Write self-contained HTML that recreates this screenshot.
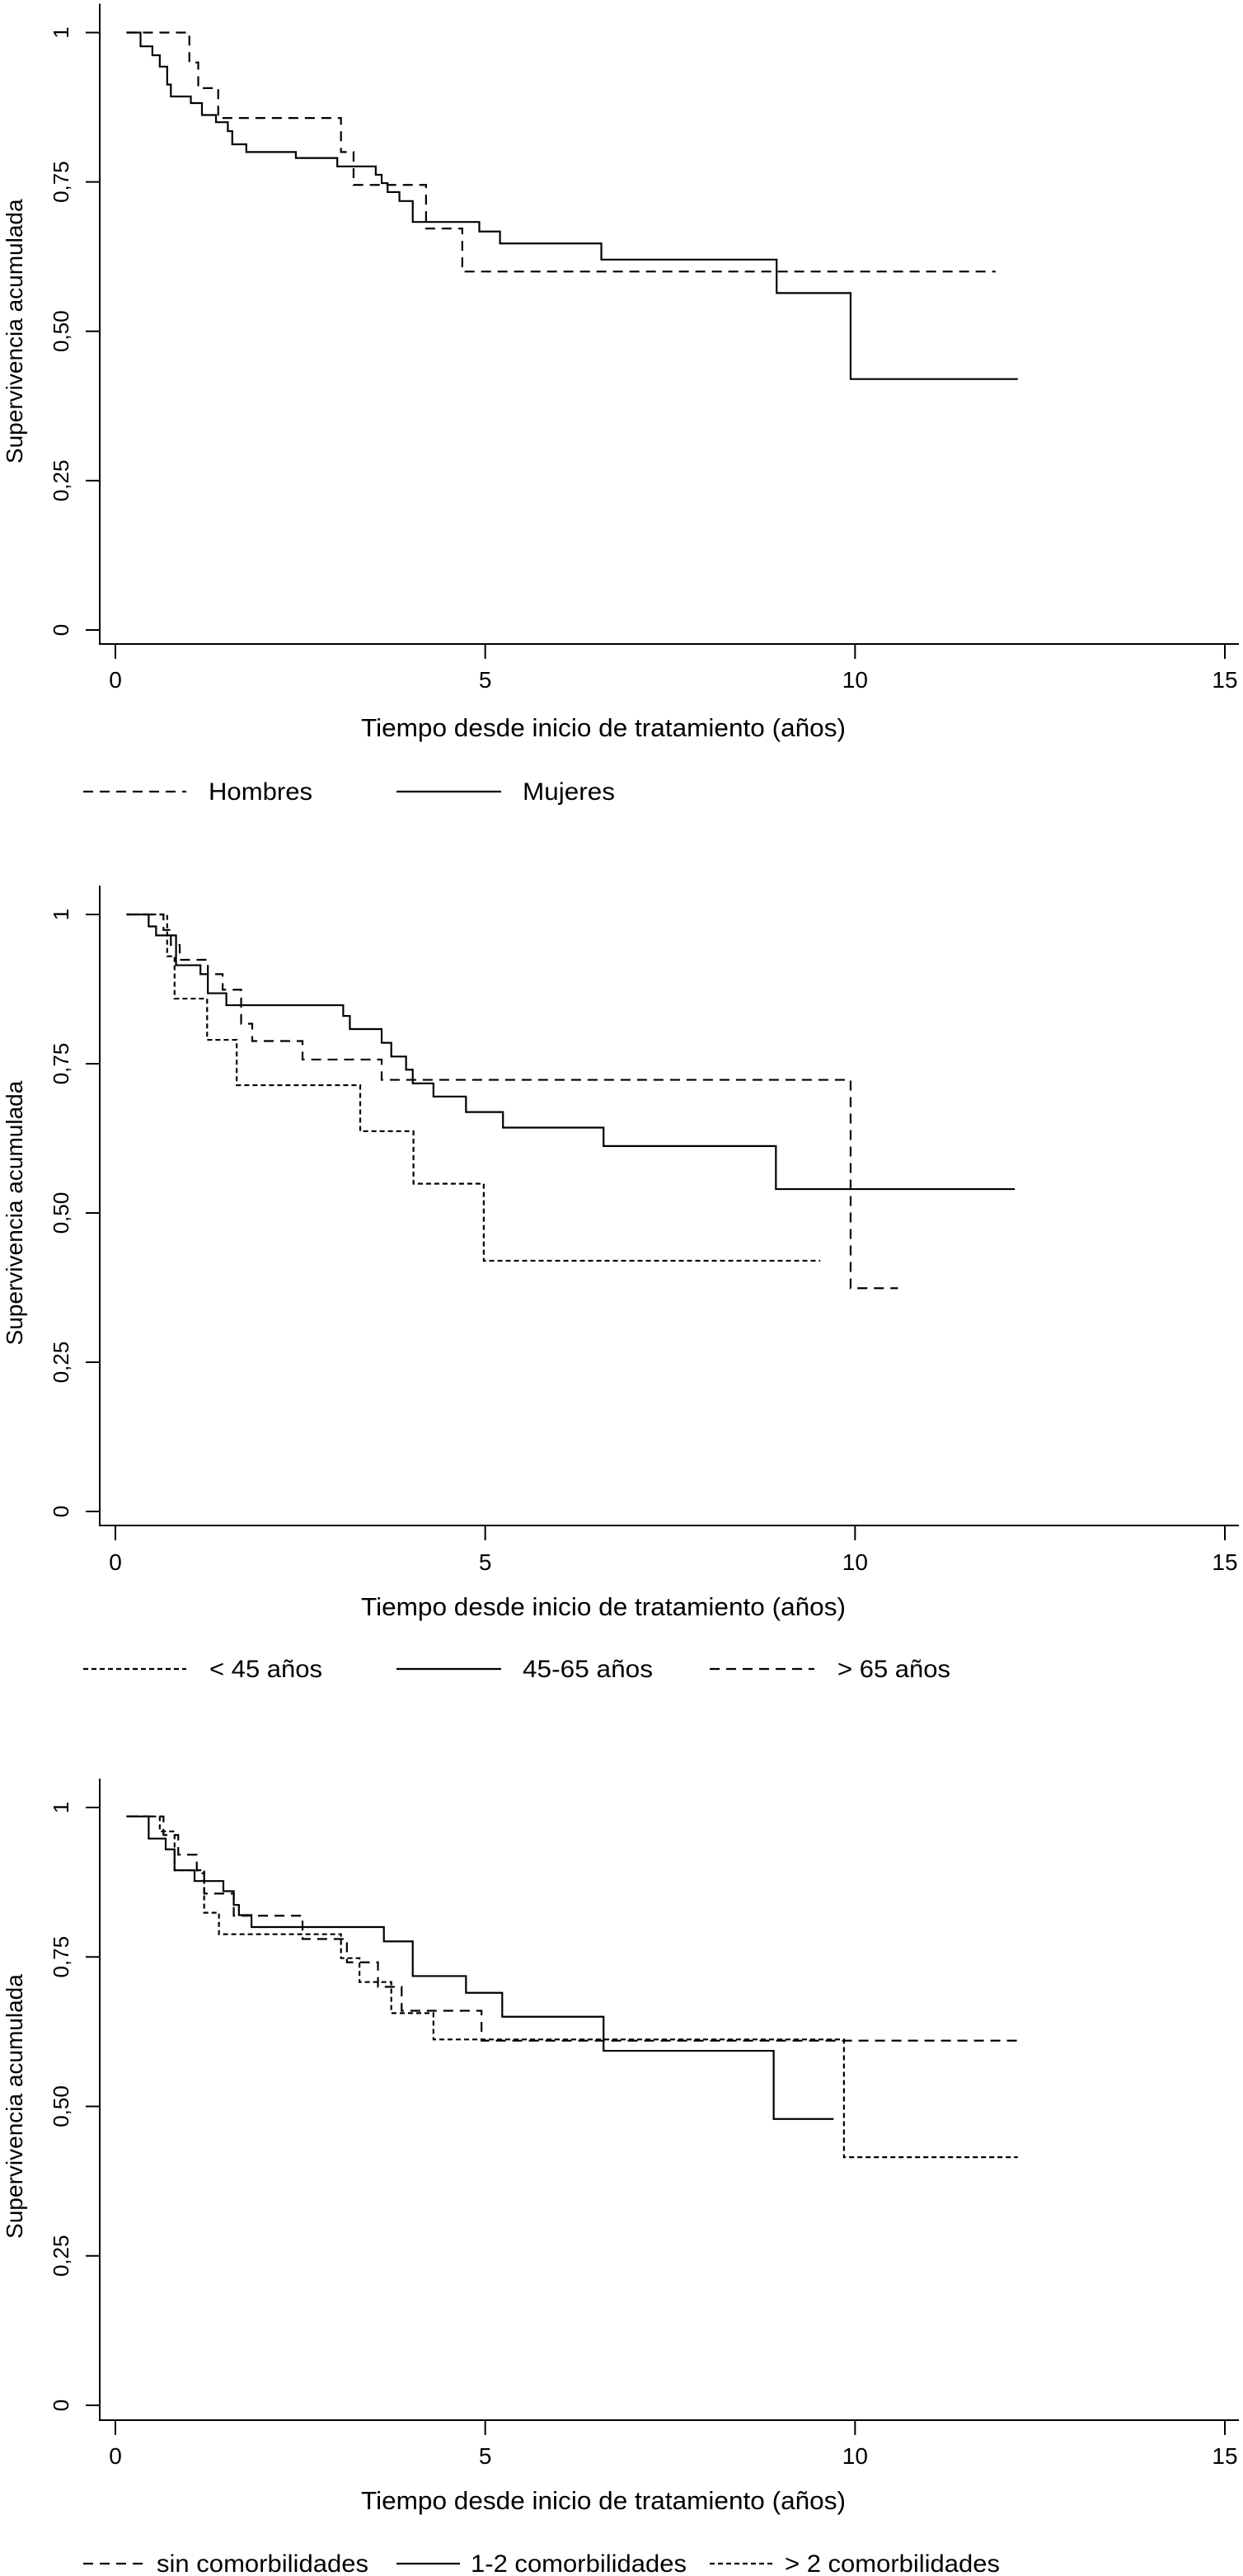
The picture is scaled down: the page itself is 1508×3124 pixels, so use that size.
<!DOCTYPE html>
<html><head><meta charset="utf-8">
<style>
html,body{margin:0;padding:0;background:#fff;}
svg{display:block;font-family:"Liberation Sans",Arial,sans-serif;}
</style></head>
<body>
<svg id="chart" width="1508" height="3124" viewBox="0 0 1508 3124" xmlns="http://www.w3.org/2000/svg"></svg>
<script>
// ---------- data ----------
const xTicks = [0, 5, 10, 15];
const yTicks = [0, 0.25, 0.5, 0.75, 1];
const yTickLabels = ["0", "0,25", "0,50", "0,75", "1"];

// Panel 1: sex
const hombresT = [0.15, 1.0, 1.12, 1.39, 3.05, 3.22, 4.2, 4.69, 11.9];
const hombresS = [1, 0.95, 0.907, 0.857, 0.80, 0.745, 0.672, 0.60, 0.60];
const mujeresT = [0.15, 0.34, 0.5, 0.6, 0.7, 0.75, 1.02, 1.17, 1.36, 1.52, 1.58, 1.77, 2.44, 3.0, 3.52, 3.6, 3.68, 3.84, 4.02, 4.92, 5.2, 6.57, 8.94, 9.94, 12.2];
const mujeresS = [1, 0.977, 0.962, 0.943, 0.913, 0.893, 0.882, 0.862, 0.85, 0.835, 0.813, 0.80, 0.79, 0.776, 0.762, 0.748, 0.733, 0.718, 0.683, 0.667, 0.647, 0.62, 0.564, 0.42, 0.42];

// Panel 2: age
const menor45T = [0.15, 0.7, 0.8, 1.24, 1.64, 3.31, 4.03, 4.98, 9.53];
const menor45S = [1, 0.93, 0.859, 0.79, 0.714, 0.637, 0.549, 0.42, 0.42];
const medio45T = [0.15, 0.45, 0.55, 0.82, 1.15, 1.25, 1.5, 3.08, 3.17, 3.6, 3.73, 3.93, 4.02, 4.3, 4.74, 5.24, 6.6, 8.93, 12.16];
const medio45S = [1, 0.98, 0.965, 0.915, 0.9, 0.868, 0.848, 0.83, 0.808, 0.785, 0.762, 0.74, 0.717, 0.695, 0.669, 0.643, 0.612, 0.54, 0.54];
const mayor65T = [0.15, 0.65, 0.75, 0.87, 1.25, 1.45, 1.7, 1.85, 2.53, 3.6, 9.94, 10.58];
const mayor65S = [1, 0.974, 0.949, 0.924, 0.9, 0.874, 0.817, 0.788, 0.757, 0.723, 0.374, 0.374];

// Panel 3: comorbidities
const sinComT = [0.15, 0.65, 0.85, 1.1, 1.2, 1.6, 2.53, 3.13, 3.55, 3.87, 4.95, 12.2];
const sinComS = [0.985, 0.954, 0.921, 0.89, 0.856, 0.819, 0.78, 0.741, 0.70, 0.66, 0.61, 0.61];
const unoDosT = [0.15, 0.45, 0.68, 0.8, 1.07, 1.46, 1.6, 1.67, 1.84, 3.63, 4.02, 4.74, 5.23, 6.6, 8.9, 9.71];
const unoDosS = [0.985, 0.948, 0.93, 0.895, 0.877, 0.86, 0.837, 0.82, 0.80, 0.776, 0.718, 0.69, 0.65, 0.593, 0.479, 0.479];
const masDosT = [0.15, 0.6, 0.8, 1.2, 1.4, 3.05, 3.3, 3.73, 4.3, 9.85, 12.2];
const masDosS = [0.985, 0.96, 0.895, 0.824, 0.788, 0.748, 0.708, 0.656, 0.612, 0.415, 0.415];

// ---------- drawing ----------
const NS = "http://www.w3.org/2000/svg";
const svg = document.getElementById("chart");
const DASH = "12 8", DOT = "6 4";

function mk(tag, attrs, parent) {
  const e = document.createElementNS(NS, tag);
  for (const k in attrs) e.setAttribute(k, attrs[k]);
  (parent || svg).appendChild(e);
  return e;
}

const panels = [
  { id: "sexo", y1: 39.5, y0: 764, axisY: 781, tickLab: 834, title: 893, legY: 960,
    series: [
      { name: "hombres", t: hombresT, s: hombresS, dash: DASH },
      { name: "mujeres", t: mujeresT, s: mujeresS, dash: null }],
    legend: [
      { label: "Hombres", dash: DASH, x1: 101, x2: 226, tx: 253, w: 126 },
      { label: "Mujeres", dash: null, x1: 481, x2: 608, tx: 634, w: 112 }] },
  { id: "edad", y1: 1109, y0: 1833, axisY: 1850, tickLab: 1904, title: 1959, legY: 2024,
    series: [
      { name: "menor-45", t: menor45T, s: menor45S, dash: DOT },
      { name: "45-65", t: medio45T, s: medio45S, dash: null },
      { name: "mayor-65", t: mayor65T, s: mayor65S, dash: DASH }],
    legend: [
      { label: "< 45 años", dash: DOT, x1: 101, x2: 226, tx: 254, w: 137 },
      { label: "45-65 años", dash: null, x1: 481, x2: 608, tx: 634, w: 158 },
      { label: "> 65 años", dash: DASH, x1: 861, x2: 988, tx: 1016, w: 137 }] },
  { id: "comorbilidades", y1: 2192, y0: 2917, axisY: 2935, tickLab: 2988, title: 3043, legY: 3109,
    series: [
      { name: "sin-comorbilidades", t: sinComT, s: sinComS, dash: DASH },
      { name: "1-2-comorbilidades", t: unoDosT, s: unoDosS, dash: null },
      { name: "mas-2-comorbilidades", t: masDosT, s: masDosS, dash: DOT }],
    legend: [
      { label: "sin comorbilidades", dash: DASH, x1: 101, x2: 173, tx: 190, w: 257 },
      { label: "1-2 comorbilidades", dash: null, x1: 481, x2: 558, tx: 571, w: 262 },
      { label: "> 2 comorbilidades", dash: DOT, x1: 861, x2: 938, tx: 952, w: 261 }] }
];

const X0 = 140, X15 = 1486, AXL = 121;
function xScale(v) { return X0 + (v / 15) * (X15 - X0); }

panels.forEach(p => {
  const g = mk("g", {});
  
  
  const yScale = v => p.y0 - v * (p.y0 - p.y1);
  const top = p.y1 - 35;
  const ya = mk("line", { x1: AXL, y1: top, x2: AXL, y2: p.axisY, stroke: "#000", "stroke-width": 2 }, g);
  
  
  const xa = mk("line", { x1: AXL - 1, y1: p.axisY, x2: 1503, y2: p.axisY, stroke: "#000", "stroke-width": 2 }, g);
  
  
  yTicks.forEach((v, i) => {
    const y = yScale(v);
    const tk = mk("line", { x1: AXL - 17, y1: y, x2: AXL, y2: y, stroke: "#000", "stroke-width": 2 }, g);
    
    
    const tl = mk("text", { x: 0, y: 0, "font-size": 26, "text-anchor": "middle",
      transform: `translate(83,${y}) rotate(-90)` }, g);
    tl.textContent = yTickLabels[i];
    
    
  });
  xTicks.forEach(v => {
    const x = xScale(v);
    const tk = mk("line", { x1: x, y1: p.axisY, x2: x, y2: p.axisY + 18, stroke: "#000", "stroke-width": 2 }, g);
    
    
    const tl = mk("text", { x: x, y: p.tickLab, "font-size": 28, "text-anchor": "middle" }, g);
    tl.textContent = String(v);
    
    
  });
  const xt = mk("text", { x: 732, y: p.title, "font-size": 31, "text-anchor": "middle",
    textLength: 588, lengthAdjust: "spacingAndGlyphs" }, g);
  xt.textContent = "Tiempo desde inicio de tratamiento (años)";
  
  
  const yt = mk("text", { x: 0, y: 0, "font-size": 28, "text-anchor": "middle",
    transform: `translate(27,${(p.y0 + p.y1) / 2}) rotate(-90)` }, g);
  yt.textContent = "Supervivencia acumulada";
  
  
  p.series.forEach(s => {
    let d = "";
    for (let i = 0; i < s.t.length; i++) {
      const x = xScale(s.t[i]), y = yScale(s.s[i]);
      if (i === 0) d += `M${x},${y}`;
      else d += `H${x}V${y}`;
    }
    const attrs = { d: d, fill: "none", stroke: "#000", "stroke-width": 2.2 };
    if (s.dash) attrs["stroke-dasharray"] = s.dash;
    const path = mk("path", attrs, g);
    
    
  });
  p.legend.forEach(l => {
    const lg = mk("g", {}, g);
    
    
    const la = { x1: l.x1, y1: p.legY, x2: l.x2, y2: p.legY, stroke: "#000", "stroke-width": 2.2 };
    if (l.dash) la["stroke-dasharray"] = l.dash;
    mk("line", la, lg);
    const lt = mk("text", { x: l.tx, y: p.legY + 10, "font-size": 30, textLength: l.w, lengthAdjust: "spacingAndGlyphs" }, lg);
    lt.textContent = l.label;
  });
});
</script>
</body></html>
